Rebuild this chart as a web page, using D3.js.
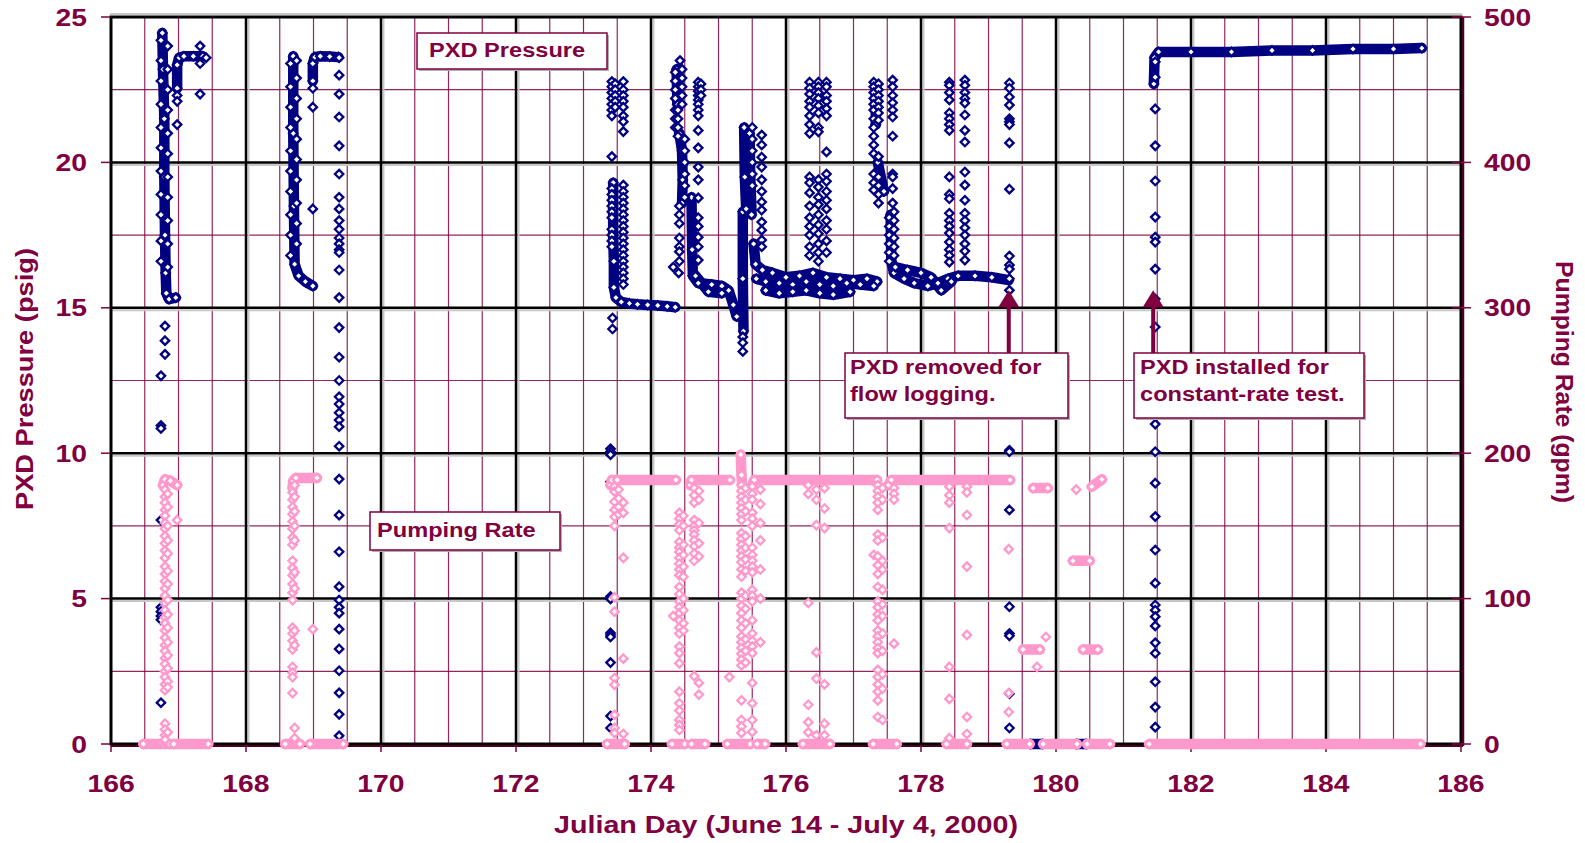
<!DOCTYPE html>
<html>
<head>
<meta charset="utf-8">
<script src="https://cdn.jsdelivr.net/npm/d3@7"></script>
<style>
body { margin: 0; background: #fff; }
svg text { font-family: "Liberation Sans", Arial, sans-serif; font-weight: bold; fill: #800040; }
</style>
</head>
<body>
<svg id="chart" width="1585" height="843"></svg>
<script>
/* global d3 */

/* Axis ticks */
var dayTicks = [166, 168, 170, 172, 174, 176, 178, 180, 182, 184, 186];
var psigTicks = [0, 5, 10, 15, 20, 25];
var psigMinor = [2.5, 7.5, 12.5, 17.5, 22.5];
var gpmTicks = [0, 100, 200, 300, 400, 500];

/* PXD pressure (psig): dense stretches of readings, drawn as thick traces */
var pxdTraces = [
    [[166.76, 24.45], [166.77, 23.2], [166.79, 21.5], [166.79, 19.5], [166.80, 17.5], [166.81, 16.2], [166.82, 15.5], [166.86, 15.3], [166.96, 15.35]],
    [[166.98, 22.55], [166.98, 23.35], [167.01, 23.6], [167.08, 23.65], [167.22, 23.65], [167.36, 23.65]],
    [[168.70, 23.65], [168.70, 21.0], [168.71, 18.5], [168.72, 16.5], [168.78, 16.1], [168.88, 15.9], [168.99, 15.75]],
    [[168.99, 22.8], [168.99, 23.4], [169.02, 23.62], [169.10, 23.65], [169.24, 23.64], [169.37, 23.62]],
    [[173.44, 19.3], [173.44, 18.4], [173.44, 17.5], [173.45, 16.6], [173.45, 15.7], [173.48, 15.35], [173.56, 15.2], [173.68, 15.15], [173.80, 15.12], [173.95, 15.1], [174.10, 15.08], [174.24, 15.05], [174.36, 15.02]],
    [[174.38, 23.2], [174.39, 22.0]],
    [[174.42, 21.0], [174.46, 20.4], [174.47, 19.4], [174.46, 18.6]],
    [[174.60, 18.8], [174.61, 17.0], [174.62, 16.1], [174.70, 15.85], [174.90, 15.8], [175.05, 15.75], [175.15, 15.6], [175.22, 15.1], [175.27, 14.7]],
    [[174.66, 16.1], [174.85, 15.55], [175.05, 15.5]],
    [[175.36, 18.3], [175.36, 16.0], [175.37, 14.2]],
    [[175.38, 21.2], [175.39, 19.5], [175.41, 18.4]],
    [[175.46, 21.0], [175.47, 19.6], [175.49, 18.2]],
    [[175.52, 17.2], [175.55, 16.5], [175.65, 16.3], [175.80, 16.2], [176.00, 16.05], [176.20, 16.1], [176.40, 16.2], [176.60, 16.05], [176.80, 16.0], [177.00, 15.95], [177.20, 16.0], [177.35, 15.9]],
    [[175.56, 16.0], [175.70, 15.9], [175.90, 15.85], [176.10, 15.8], [176.30, 15.9], [176.50, 15.8], [176.70, 15.75], [176.90, 15.85], [177.10, 15.8], [177.30, 15.75]],
    [[175.70, 15.6], [175.90, 15.5], [176.10, 15.55], [176.30, 15.6], [176.50, 15.5], [176.70, 15.45], [176.95, 15.55]],
    [[177.33, 22.6], [177.33, 21.3]],
    [[177.36, 20.0], [177.45, 19.0]],
    [[177.55, 18.2], [177.56, 16.6], [177.60, 16.2], [177.75, 16.0], [177.90, 15.85], [178.10, 15.75], [178.25, 15.85], [178.40, 16.0], [178.55, 16.1], [178.80, 16.1], [179.05, 16.05], [179.30, 15.95]],
    [[177.62, 16.4], [177.80, 16.3], [178.00, 16.2], [178.15, 16.05], [178.30, 15.6], [178.45, 15.9]],
    [[179.62, 0], [179.80, 0]],
    [[180.30, 0], [180.45, 0]],
    [[181.45, 22.7], [181.46, 23.6], [181.52, 23.8], [182.00, 23.8], [182.60, 23.8], [183.20, 23.85], [183.80, 23.85], [184.40, 23.9], [185.00, 23.9], [185.42, 23.93]]
];

/* PXD pressure (psig): single readings, grouped by day */
var pxdColumns = [
    [166.74, [24.2, 23.5, 22.8, 22.0, 21.2, 20.5, 19.7, 18.9, 18.2, 17.3, 16.6, 12.66, 10.95, 10.85, 7.7, 4.7, 4.55, 4.4, 4.27, 1.42]],
    [166.80, [14.37, 13.87, 13.4]],
    [166.84, [24.0, 23.2, 22.5, 21.8, 21.0, 20.3, 19.5, 18.8, 18.0, 17.2, 16.4]],
    [166.98, [22.3, 22.1, 21.3]],
    [167.32, [24.0, 23.4, 22.35]],
    [167.41, [23.6]],
    [168.66, [23.4, 22.6, 21.9, 21.2, 20.4, 19.7, 19.0, 18.2, 17.5, 16.8]],
    [168.75, [23.5, 22.9, 22.2, 21.5, 20.8, 20.1, 19.4, 18.6, 17.9, 17.2]],
    [168.99, [22.55, 21.9, 18.4]],
    [169.38, [23.6, 23.0, 22.35, 21.56, 20.57, 19.6, 18.8, 18.4, 18.0, 17.7, 17.4, 17.2, 17.0, 16.9, 16.3, 15.35, 14.32, 13.3, 12.5, 11.94, 11.69, 11.39, 11.14, 10.91, 10.24, 9.11, 7.87, 6.61, 5.41, 4.95, 4.7, 4.5, 3.95, 3.27, 2.52, 1.76, 1.02, 0.28]],
    [173.40, [10.15, 10.05, 9.95, 9.02, 5.07, 4.99, 3.82, 3.75, 3.68, 2.8, 0.96, 0.55]],
    [173.42, [22.78, 22.6, 22.4, 22.2, 22.0, 21.8, 21.6, 20.2, 19.1, 18.9, 18.7, 18.5, 18.3, 18.1, 17.7, 17.5, 17.3, 17.1]],
    [173.43, [14.65, 14.27]],
    [173.47, [22.7, 22.5, 22.3, 22.1, 21.9]],
    [173.59, [22.78, 22.5, 22.3, 22.1, 21.9, 21.6, 21.4, 21.06, 19.22, 19.0, 18.8, 18.6, 18.4, 18.2, 18.0, 17.8, 17.6, 17.4, 17.2, 17.0, 16.8, 16.6, 16.4, 16.2, 16.0, 15.8]],
    [174.33, [16.4]],
    [174.36, [23.1, 22.8, 22.5, 22.2, 21.8, 21.5, 21.2]],
    [174.40, [21.8, 21.5, 21.2, 20.9]],
    [174.41, [16.2]],
    [174.42, [18.5, 18.2, 17.9, 17.4, 17.1, 16.93, 16.6]],
    [174.43, [23.5]],
    [174.46, [23.2, 22.9, 22.6, 22.3, 22.0]],
    [174.50, [20.8, 20.4, 20.0, 19.6, 19.2, 18.8]],
    [174.70, [22.76, 22.6, 22.45, 22.3, 22.15, 22.0, 21.8, 21.6, 21.1, 20.5, 19.84, 19.4, 18.78, 18.1, 17.8, 17.43, 17.1, 16.64]],
    [174.74, [22.7, 22.5, 22.3]],
    [175.36, [14.0, 13.8, 13.5]],
    [175.50, [21.2, 20.8, 20.4, 20.0, 19.6, 19.2]],
    [175.64, [20.94, 20.6, 20.18, 19.84, 19.4, 19.0, 18.64, 18.36, 17.95, 17.67, 17.33, 17.1]],
    [176.35, [22.76, 22.55, 22.35, 22.1, 21.9, 21.6, 21.3, 21.0, 19.5, 19.3, 18.95, 18.5, 18.1, 17.8, 17.5, 17.1, 16.8]],
    [176.48, [22.76, 22.6, 22.4, 22.2, 21.95, 21.7, 21.2, 21.05, 19.4, 19.15, 18.8, 18.55, 18.2, 17.85, 17.55, 17.2, 16.9, 16.6]],
    [176.60, [22.76, 22.6, 22.3, 22.1, 21.85, 21.6, 20.36, 19.6, 19.35, 19.0, 18.7, 18.4, 18.0, 17.7, 17.3, 16.9]],
    [177.30, [22.76, 22.6, 22.4, 22.2, 22.0, 21.8, 21.5, 21.2, 20.9, 20.6, 20.3, 19.6, 19.3, 19.05]],
    [177.37, [22.7, 22.5, 22.3, 22.1, 21.9, 21.7, 21.45, 20.2, 19.5, 19.2, 18.9, 18.6]],
    [177.53, [18.1, 17.8, 17.5, 17.2, 16.9, 16.6]],
    [177.58, [22.83, 22.6, 22.3, 22.05, 21.8, 21.56, 20.9, 19.6, 19.5, 19.1, 18.6]],
    [177.60, [18.3, 18.0, 17.7, 17.4, 17.1, 16.8]],
    [178.42, [22.76, 22.65, 22.4, 22.15, 21.7, 21.5, 21.3, 21.1, 19.5, 18.9, 18.75, 18.25, 18.0, 17.8, 17.57, 17.26, 17.0, 16.8, 16.57]],
    [178.65, [22.83, 22.65, 22.4, 22.2, 22.04, 21.63, 21.1, 20.7, 19.67, 19.22, 18.7, 18.25, 18.0, 17.75, 17.5, 17.2, 16.95, 16.64]],
    [179.31, [22.73, 22.55, 22.25, 21.97, 21.5, 21.4, 21.3, 20.67, 19.08, 16.78, 16.47, 16.33, 16.0, 15.6, 10.1, 10.05, 8.05, 4.72, 3.8, 3.72, 1.73, 0.55]],
    [181.47, [23.46, 22.93, 21.84, 20.57, 19.36, 18.12, 17.43, 17.26, 16.33, 15.3, 14.34, 13.15, 12.1, 11.0, 10.05, 8.97, 7.82, 6.67, 5.53, 4.78, 4.6, 4.38, 4.06, 3.48, 3.12, 2.14, 1.27, 0.58]]
];

/* Pumping rate (gpm): dense stretches */
var rateTraces = [
    [[166.48, 0], [166.87, 0]],
    [[166.93, 0], [167.44, 0]],
    [[166.77, 178], [166.80, 182], [166.88, 181], [166.98, 178]],
    [[168.58, 0], [168.80, 0]],
    [[168.95, 0], [169.44, 0]],
    [[168.69, 176], [168.70, 181], [168.74, 183], [169.05, 183]],
    [[173.35, 0], [173.61, 0]],
    [[173.40, 178], [173.42, 181.5], [173.50, 181.6], [174.37, 181.6]],
    [[174.31, 0], [174.50, 0]],
    [[174.60, 0], [174.80, 0]],
    [[174.58, 178], [174.60, 181.6], [175.17, 181.6]],
    [[175.13, 0], [175.47, 0]],
    [[175.33, 199], [175.34, 185], [175.35, 178]],
    [[175.57, 0], [175.69, 0]],
    [[175.50, 178], [175.53, 181.6], [177.35, 181.6]],
    [[176.25, 0], [176.65, 0]],
    [[177.29, 0], [177.64, 0]],
    [[177.52, 178], [177.56, 181.6], [179.32, 181.6]],
    [[178.38, 0], [178.68, 0]],
    [[179.27, 0], [179.61, 0]],
    [[179.81, 0], [180.31, 0]],
    [[180.46, 0], [180.80, 0]],
    [[179.66, 176], [179.88, 176]],
    [[180.25, 126], [180.50, 126]],
    [[179.51, 65], [179.76, 65]],
    [[180.40, 65], [180.62, 65]],
    [[180.53, 177], [180.68, 182]],
    [[181.38, 0], [185.40, 0]]
];

/* Pumping rate (gpm): single readings, grouped by day */
var rateColumns = [
    [166.80, [175, 170, 166, 161, 157, 152, 148, 143, 138, 133, 128, 122, 117, 112, 107, 102, 97, 92, 87, 83, 78, 73, 68, 64, 59, 55, 50, 46, 41, 37, 14, 10, 6, 3]],
    [166.84, [172, 163, 150, 140, 131, 119, 110, 99, 89, 80, 70, 61, 52, 43, 39, 8]],
    [166.98, [154]],
    [168.69, [173, 168, 163, 158, 153, 148, 142, 137, 126, 121, 116, 110, 104, 99, 80, 76, 71, 65, 53, 49, 46, 35]],
    [168.72, [178, 170, 160, 150, 140, 118, 107, 78, 68, 11, 4]],
    [168.99, [79]],
    [173.46, [177, 173.5, 166.6, 161, 156.3, 150, 101, 91, 45.4, 40.7, 20, 11, 7.5]],
    [173.52, [175, 169, 163, 158]],
    [173.59, [166, 159, 128, 58.7, 6.9]],
    [174.33, [88]],
    [174.42, [159, 155, 151, 147, 139, 135, 132, 128, 124, 120, 116, 108, 103, 98, 94, 90, 85, 80, 76, 67, 62.5, 55.5, 36, 28, 23, 16.5, 13, 9.6]],
    [174.48, [157, 150, 137, 130, 122, 115, 100, 92, 83, 78]],
    [174.64, [176, 171, 166, 154, 150, 147, 144, 140, 136, 131, 126, 46.7]],
    [174.71, [174, 168, 152, 138, 129, 42, 34]],
    [175.16, [46]],
    [175.34, [178, 174, 170, 166, 162, 158, 154, 145, 141, 137, 133, 129, 125, 120, 115, 104, 100, 95, 90, 85, 80, 74, 70, 66, 62, 58, 54, 30, 16.5, 12, 7.6]],
    [175.40, [176, 168, 160, 143, 135, 127, 119, 102, 93, 83, 72, 64, 56]],
    [175.50, [177, 172, 168, 159, 155, 150, 135, 130, 126, 122, 118, 106, 102, 98, 85, 76, 71, 67, 62.5, 42, 28, 16.5, 8.3]],
    [175.62, [175, 165, 152, 140, 120, 100, 70]],
    [176.33, [178, 172, 97, 27, 15, 8]],
    [176.45, [175, 168, 150.5, 63, 45, 6]],
    [176.57, [176, 162, 148.5, 41, 14, 6]],
    [177.30, [130]],
    [177.36, [178, 174, 170, 166, 161, 144, 140, 129, 123, 117, 108, 98, 94, 89, 85, 78, 74, 70, 66, 62.5, 51, 46, 41, 36, 30, 18.6]],
    [177.43, [176, 168, 142, 126, 120, 106, 96, 88, 76, 64, 48, 38, 16.5]],
    [177.60, [176, 172, 168, 69]],
    [178.42, [177, 171, 166, 148.5, 53, 31, 4]],
    [178.68, [177, 173, 157.5, 122, 75, 18.6, 6.9]],
    [179.30, [134, 35, 22]],
    [179.72, [53]],
    [179.85, [73.6]],
    [180.30, [175]]
];

var maroon = "#800040", navy = "#000080", pink = "#ff99cc";
var margin = {left: 111, top: 17};
var width = 1350, height = 727;

var x = d3.scaleLinear().domain([166, 186]).range([0, width]);
var yP = d3.scaleLinear().domain([0, 25]).range([height, 0]);
var yR = d3.scaleLinear().domain([0, 500]).range([height, 0]);

var svg = d3.select("#chart");
var g = svg.append("g")
    .attr("transform", "translate(" + margin.left + "," + margin.top + ")");

/* stretch text horizontally, the original was rendered wide */
function stretch(sel, k) {
    sel.each(function () {
        var w = this.getComputedTextLength();
        d3.select(this).attr("textLength", w * k).attr("lengthAdjust", "spacingAndGlyphs");
    });
}

// minor grid lines
var dayMinor = d3.range(166.5, 186, 0.5).filter(function (d) { return d % 2 !== 0; });
g.selectAll(".vminor").data(dayMinor).enter().append("line")
    .attr("x1", d => x(d)).attr("x2", d => x(d))
    .attr("y1", 0).attr("y2", height)
    .attr("stroke", maroon).attr("stroke-width", 1.2).attr("stroke-opacity", 0.85);
g.selectAll(".hminor").data(psigMinor).enter().append("line")
    .attr("x1", 0).attr("x2", width)
    .attr("y1", d => yP(d)).attr("y2", d => yP(d))
    .attr("stroke", maroon).attr("stroke-width", 1.2).attr("stroke-opacity", 0.85);

// major grid lines, with the light shadow Excel puts on them
var dayMajor = dayTicks.slice(1, -1);
var psigMajor = psigTicks.slice(1, -1);
g.selectAll(".vshadow").data(dayMajor).enter().append("line")
    .attr("x1", d => x(d) + 2.5).attr("x2", d => x(d) + 2.5)
    .attr("y1", 0).attr("y2", height)
    .attr("stroke", "#c8c8c8").attr("stroke-width", 2);
g.selectAll(".hshadow").data(psigMajor).enter().append("line")
    .attr("x1", 0).attr("x2", width)
    .attr("y1", d => yP(d) + 2.5).attr("y2", d => yP(d) + 2.5)
    .attr("stroke", "#c8c8c8").attr("stroke-width", 2);
g.selectAll(".vmajor").data(dayMajor).enter().append("line")
    .attr("x1", d => x(d)).attr("x2", d => x(d))
    .attr("y1", 0).attr("y2", height)
    .attr("stroke", "#000").attr("stroke-width", 2.5);
g.selectAll(".hmajor").data(psigMajor).enter().append("line")
    .attr("x1", 0).attr("x2", width)
    .attr("y1", d => yP(d)).attr("y2", d => yP(d))
    .attr("stroke", "#000").attr("stroke-width", 2.5);

// plot frame
g.append("line").attr("x1", -1).attr("x2", width + 1).attr("y1", -3).attr("y2", -3)
    .attr("stroke", "#c8c8c8").attr("stroke-width", 2);
g.append("rect").attr("x", 0).attr("y", 0).attr("width", width).attr("height", height)
    .attr("fill", "none").attr("stroke", "#000").attr("stroke-width", 3);
g.append("line").attr("x1", width + 2).attr("x2", width + 2).attr("y1", 0).attr("y2", height + 2)
    .attr("stroke", "#4a0025").attr("stroke-width", 2.5);
g.append("line").attr("x1", 0).attr("x2", width + 2).attr("y1", height + 2).attr("y2", height + 2)
    .attr("stroke", "#4a0025").attr("stroke-width", 2);

// tick marks
g.selectAll(".lt").data(psigTicks).enter().append("line")
    .attr("x1", -10).attr("x2", -1).attr("y1", d => yP(d)).attr("y2", d => yP(d))
    .attr("stroke", maroon).attr("stroke-width", 1.5);
g.selectAll(".rt").data(gpmTicks).enter().append("line")
    .attr("x1", width - 9).attr("x2", width + 10).attr("y1", d => yR(d)).attr("y2", d => yR(d))
    .attr("stroke", maroon).attr("stroke-width", 1.5);
g.selectAll(".bt").data(dayTicks).enter().append("line")
    .attr("x1", d => x(d)).attr("x2", d => x(d)).attr("y1", height + 1).attr("y2", height + 8)
    .attr("stroke", maroon).attr("stroke-width", 1.5);

// tick labels
g.selectAll(".ll").data(psigTicks).enter().append("text")
    .attr("x", -24).attr("y", d => yP(d)).attr("dy", "0.36em")
    .attr("text-anchor", "end").attr("font-size", 24)
    .text(d => d).call(stretch, 1.18);
g.selectAll(".rl").data(gpmTicks).enter().append("text")
    .attr("x", width + 23).attr("y", d => yR(d)).attr("dy", "0.36em")
    .attr("text-anchor", "start").attr("font-size", 24)
    .text(d => d).call(stretch, 1.18);
g.selectAll(".bl").data(dayTicks).enter().append("text")
    .attr("x", d => x(d)).attr("y", height + 39).attr("dy", "0.36em")
    .attr("text-anchor", "middle").attr("font-size", 24)
    .text(d => d).call(stretch, 1.18);

// axis titles
svg.append("text").attr("x", 786).attr("y", 833).attr("text-anchor", "middle")
    .attr("font-size", 23).attr("textLength", 464).attr("lengthAdjust", "spacingAndGlyphs")
    .text("Julian Day (June 14 - July 4, 2000)");
svg.append("text").attr("transform", "translate(33,379) rotate(-90)").attr("text-anchor", "middle")
    .attr("font-size", 23).attr("textLength", 262).attr("lengthAdjust", "spacingAndGlyphs")
    .text("PXD Pressure (psig)");
svg.append("text").attr("transform", "translate(1556,382) rotate(90)").attr("text-anchor", "middle")
    .attr("font-size", 23).attr("textLength", 242).attr("lengthAdjust", "spacingAndGlyphs")
    .text("Pumping Rate (gpm)");

/* Draw one series: traces first, then the diamond markers */
var diamond = "M0,-4.2L4.2,0L0,4.2L-4.2,0Z";
function drawSeries(traces, columns, yScale, color) {
    var layer = g.append("g");
    var line = d3.line().x(d => x(d[0])).y(d => yScale(d[1]));
    layer.selectAll(".trace").data(traces).enter().append("path")
        .attr("d", line)
        .attr("fill", "none").attr("stroke", color).attr("stroke-width", 10.5)
        .attr("stroke-linecap", "round").attr("stroke-linejoin", "round");

    var pts = [];
    traces.forEach(t => t.forEach(p => pts.push(p)));
    columns.forEach(c => c[1].forEach(v => pts.push([c[0], v])));
    layer.selectAll(".pt").data(pts).enter().append("path")
        .attr("d", diamond)
        .attr("transform", d => "translate(" + x(d[0]) + "," + yScale(d[1]) + ")")
        .attr("fill", "#fff").attr("stroke", color).attr("stroke-width", 2.3);
}
drawSeries(pxdTraces, pxdColumns, yP, navy);
drawSeries(rateTraces, rateColumns, yR, pink);

/* Annotation boxes */
function noteBox(bx, by, bw, bh, lines, tx, ty) {
    svg.append("rect").attr("x", bx + 2).attr("y", by + 2).attr("width", bw).attr("height", bh)
        .attr("fill", "#b0b0b0");
    svg.append("rect").attr("x", bx).attr("y", by).attr("width", bw).attr("height", bh)
        .attr("fill", "#fff").attr("stroke", maroon).attr("stroke-width", 1.5);
    lines.forEach(function (s, i) {
        svg.append("text").attr("x", tx).attr("y", ty[i]).attr("font-size", 20)
            .text(s).call(stretch, 1.18);
    });
}
function arrow(ax, tipY, baseY) {
    svg.append("line").attr("x1", ax).attr("x2", ax).attr("y1", tipY + 15).attr("y2", baseY)
        .attr("stroke", maroon).attr("stroke-width", 4);
    svg.append("path")
        .attr("d", "M" + ax + "," + tipY + "L" + (ax + 10.5) + "," + (tipY + 17) + "L" + (ax - 10.5) + "," + (tipY + 17) + "Z")
        .attr("fill", maroon);
}

noteBox(417, 33, 190, 36, ["PXD Pressure"], 429, [57]);
noteBox(370, 512, 190, 38, ["Pumping Rate"], 377, [537]);
arrow(margin.left + x(179.30), margin.top + yP(15.6), 353);
noteBox(845, 353, 223, 65, ["PXD removed for", "flow logging."], 850, [374, 401]);
arrow(margin.left + x(181.44), margin.top + yP(15.6), 353);
noteBox(1134, 353, 230, 65, ["PXD installed for", "constant-rate test."], 1140, [374, 401]);
</script>
</body>
</html>
